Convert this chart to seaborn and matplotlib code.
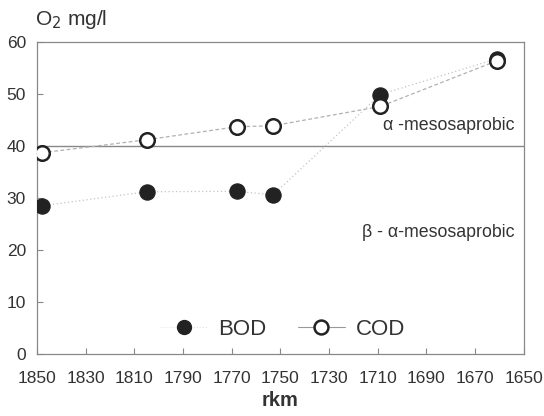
import matplotlib
matplotlib.use("Agg")
import pandas as pd
import seaborn as sns
import matplotlib.pyplot as plt
from matplotlib.lines import Line2D

# valeurs
rkm = [1848, 1805, 1768, 1753, 1709, 1661]
bod = [28.5, 31.2, 31.3, 30.6, 49.9, 56.8]
cod = [38.7, 41.2, 43.7, 43.9, 47.6, 56.4]
yticks = [0, 10, 20, 30, 40, 50, 60]
xticks = [1850, 1830, 1810, 1790, 1770, 1750, 1730, 1710, 1690, 1670, 1650]
limit = 40

df = pd.DataFrame({"rkm": rkm, "BOD": bod, "COD": cod})

sns.set_style("ticks")
plt.rcParams["font.family"] = ["Liberation Sans", "DejaVu Sans"]
txt = "#333333"

fig = plt.figure(figsize=(5.44, 4.16), dpi=100)
ax = fig.add_axes([0.068, 0.149, 0.895, 0.75])

# lignes pointillées
sns.lineplot(data=df, x="rkm", y="BOD", ax=ax, color="#c4c4c4", lw=0.9,
             linestyle=(0, (1, 2)), sort=False)
sns.lineplot(data=df, x="rkm", y="COD", ax=ax, color="#b0b0b0", lw=0.9,
             linestyle=(0, (3, 2)), sort=False)
# points
sns.scatterplot(data=df, x="rkm", y="BOD", ax=ax, s=120, color="#222222",
                edgecolor="#222222", zorder=3)
sns.scatterplot(data=df, x="rkm", y="COD", ax=ax, s=110, facecolor="white",
                edgecolor="#222222", linewidth=1.8, zorder=4)

ax.axhline(limit, color="#888888", lw=1.0, zorder=1)

ax.set_xlim(1850, 1650)
ax.set_ylim(0, 60)
ax.set_xticks(xticks)
ax.set_yticks(yticks)
ax.tick_params(direction="in", length=4, width=0.8, color="#888888",
               labelsize=12.5, labelcolor=txt)
ax.tick_params(axis="x", pad=12)
ax.tick_params(axis="y", pad=8)
for sp in ax.spines.values():
    sp.set_visible(True)
    sp.set_color("#888888")
    sp.set_linewidth(0.9)

ax.set_xlabel("rkm", fontsize=14.5, fontweight="bold", color=txt, labelpad=4)
ax.set_ylabel("")
fig.text(0.064, 0.925, "O$_2$ mg/l", fontsize=15, color=txt, ha="left",
         va="bottom")

ax.text(1654, 42.3, "α -mesosaprobic", fontsize=12.8, color=txt,
        ha="right", va="bottom")
ax.text(1654, 21.8, "β - α-mesosaprobic", fontsize=12.8, color=txt,
        ha="right", va="bottom")

handles = [
    Line2D([], [], marker="o", color="#e4e4e4", lw=0.8, linestyle=":",
           markerfacecolor="#222222", markeredgecolor="#222222", markersize=10),
    Line2D([], [], marker="o", color="#999999", lw=0.8,
           markerfacecolor="white", markeredgecolor="#222222",
           markeredgewidth=1.8, markersize=10),
]
ax.legend(handles, ["BOD", "COD"], loc="lower center", ncol=2, frameon=False,
          fontsize=16, labelcolor=txt, handlelength=2.1, handletextpad=0.5,
          columnspacing=1.4, bbox_to_anchor=(0.505, -0.02))

fig.savefig("out.png", dpi=100, facecolor="white")
